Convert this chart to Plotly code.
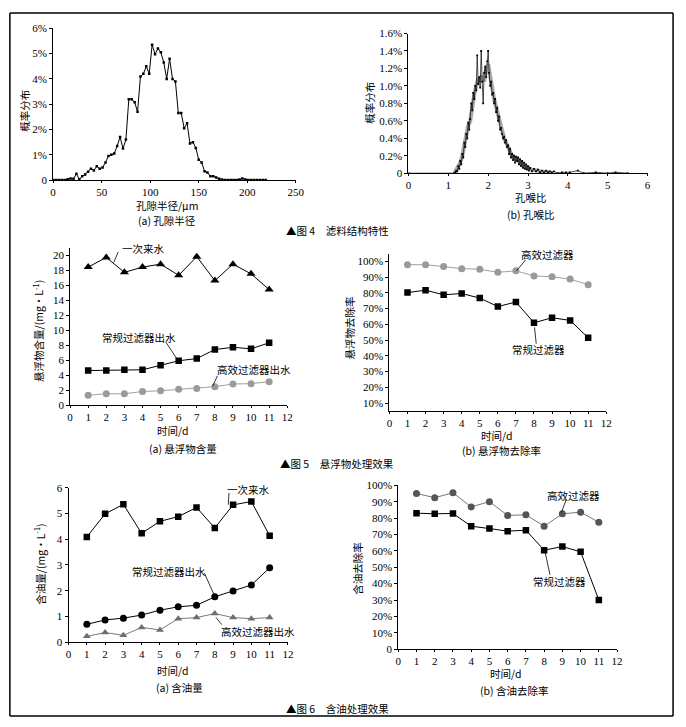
import plotly.graph_objects as go

W, H = 686, 727

def px(x):
    return x / W

def py(y):
    return 1 - y / H

# ---------------- data ----------------
# Fig 4a pore radius distribution
radius_um = [0, 3, 6, 9, 12, 15, 18, 21, 24, 27, 30, 33, 36, 39, 42, 45, 48, 51, 54, 57,
             60, 63, 66, 69, 72, 75, 78, 81, 84, 87, 90, 93, 96, 99, 102, 105, 108, 111,
             114, 117, 120, 123, 126, 129, 132, 135, 138, 141, 144, 147, 150, 153, 156,
             159, 162, 165, 168, 171, 174, 177, 180, 183, 186, 189, 192, 195, 198, 201,
             204, 207, 210, 213, 216, 219]
radius_pct = [0, 0, 0, 0, 0, 0.03, 0.06, 0.05, 0.25, 0.03, 0.15, 0.22, 0.33, 0.45, 0.38,
              0.55, 0.45, 0.5, 0.7, 0.95, 1.0, 1.05, 1.35, 1.7, 1.25, 1.6, 3.2, 3.2, 3.08,
              2.7, 4.1, 4.2, 4.5, 4.2, 5.35, 4.98, 5.2, 5.05, 4.65, 4.0, 4.8, 4.0, 3.9,
              2.65, 2.65, 2.05, 2.25, 1.45, 1.5, 1.27, 0.8, 0.7, 0.35, 0.3, 0.15, 0.15,
              0.1, 0.05, 0.02, 0, 0, 0, 0, 0, 0.02, 0.06, 0.02, 0, 0, 0, 0, 0, 0, 0]

# Fig 4b pore-throat ratio distribution (black series)
ratio_x = [0, 1.150, 1.175, 1.200, 1.225, 1.250, 1.275, 1.300, 1.325, 1.350, 1.375, 1.400,
           1.425, 1.450, 1.475, 1.500, 1.525, 1.550, 1.575, 1.600, 1.625, 1.650, 1.675,
           1.700, 1.725, 1.750, 1.775, 1.800, 1.825, 1.850, 1.875, 1.900, 1.925, 1.950,
           1.975, 2.000, 2.025, 2.050, 2.075, 2.100, 2.125, 2.150, 2.175, 2.200, 2.225,
           2.250, 2.275, 2.300, 2.325, 2.350, 2.375, 2.400, 2.425, 2.450, 2.475, 2.500,
           2.525, 2.550, 2.575, 2.600, 2.625, 2.650, 2.675, 2.700, 2.725, 2.750, 2.775,
           2.800, 2.825, 2.850, 2.875, 2.900, 2.925, 2.950, 2.975, 3.000, 3.025, 3.050,
           3.10, 3.15, 3.20, 3.25, 3.30, 3.35, 3.40, 3.45, 3.50, 3.55, 3.60, 3.65,
           3.75, 3.85, 3.95, 4.05, 4.25, 4.40, 4.70, 5.00, 5.20, 5.50]
ratio_pct = [0, 0.00, 0.01, 0.03, 0.02, 0.08, 0.05, 0.14, 0.10, 0.22, 0.18, 0.35,
             0.30, 0.45, 0.40, 0.58, 0.50, 0.62, 0.80, 0.72, 0.92, 0.85, 1.00,
             0.95, 1.35, 1.02, 1.10, 0.98, 1.40, 1.05, 0.80, 1.15, 1.22, 1.10,
             1.28, 1.40, 1.15, 1.00, 1.05, 0.90, 0.92, 0.80, 0.85, 0.70, 0.75,
             0.60, 0.65, 0.50, 0.52, 0.45, 0.40, 0.42, 0.35, 0.38, 0.30, 0.32,
             0.22, 0.28, 0.18, 0.22, 0.15, 0.20, 0.12, 0.19, 0.14, 0.18, 0.10,
             0.16, 0.08, 0.14, 0.06, 0.12, 0.05, 0.10, 0.04, 0.08, 0.03, 0.06,
             0.02, 0.05, 0.02, 0.04, 0.01, 0.03, 0.01, 0.03, 0.01, 0.02, 0.01, 0.02,
             0.00, 0.01, 0.01, 0.01, 0.03, 0.00, 0.01, 0.00, 0.01, 0.00]
# Fig 4b grey band series
ratio_x_grey = [1.15, 1.20, 1.25, 1.30, 1.35, 1.40, 1.45, 1.50, 1.55, 1.60, 1.65, 1.70,
                1.75, 1.80, 1.85, 1.90, 1.95, 2.00, 2.05, 2.10, 2.15, 2.20, 2.25, 2.30,
                2.35, 2.40, 2.45, 2.50, 2.55, 2.60, 2.65, 2.70, 2.75, 2.80, 2.85, 2.90,
                2.95, 3.00, 3.05, 3.10, 3.15, 3.20, 3.25, 3.30, 3.35, 3.40, 3.45, 3.50, 3.55]
ratio_pct_grey = [0.0, 0.04, 0.06, 0.12, 0.2, 0.32, 0.42, 0.55, 0.6, 0.78, 0.9, 1.0,
                  1.08, 1.05, 1.12, 1.05, 1.2, 1.25, 1.08, 0.98, 0.85, 0.76, 0.65, 0.55,
                  0.45, 0.4, 0.35, 0.3, 0.25, 0.2, 0.18, 0.16, 0.15, 0.13, 0.11, 0.09,
                  0.08, 0.06, 0.05, 0.04, 0.04, 0.03, 0.03, 0.02, 0.02, 0.02, 0.01, 0.01, 0.01]

days = [1, 2, 3, 4, 5, 6, 7, 8, 9, 10, 11]

# Fig 5a suspended solids content (mg/L)
ss_raw = [18.4, 19.7, 17.7, 18.4, 18.8, 17.3, 19.8, 16.6, 18.8, 17.5, 15.4]
ss_conv = [4.6, 4.6, 4.7, 4.7, 5.3, 5.9, 6.2, 7.4, 7.7, 7.5, 8.3]
ss_high = [1.3, 1.5, 1.5, 1.8, 1.9, 2.1, 2.2, 2.45, 2.8, 2.85, 3.1]

# Fig 5b suspended solids removal rate (%)
ss_rem_high = [97.9, 97.9, 96.7, 95.4, 95.0, 93.1, 94.0, 90.8, 90.2, 88.8, 85.2]
ss_rem_conv = [80.2, 81.7, 78.8, 79.6, 76.7, 71.3, 74.2, 61.0, 64.2, 62.5, 51.5]

# Fig 6a oil content (mg/L)
oil_raw = [4.09, 4.99, 5.36, 4.23, 4.70, 4.88, 5.24, 4.44, 5.34, 5.47, 4.14]
oil_conv = [0.69, 0.86, 0.93, 1.05, 1.24, 1.37, 1.43, 1.76, 1.99, 2.22, 2.89]
oil_high = [0.22, 0.37, 0.26, 0.57, 0.47, 0.91, 0.95, 1.11, 0.95, 0.91, 0.95]

# Fig 6b oil removal rate (%)
oil_rem_high = [95.0, 92.4, 95.4, 86.8, 90.0, 81.6, 82.0, 75.0, 82.6, 83.6, 77.4]
oil_rem_conv = [83.0, 82.6, 82.8, 75.0, 73.6, 72.0, 72.6, 60.4, 62.6, 59.4, 30.0]

# ---------------- figure ----------------
SERIF = "Liberation Serif"
CJK = "Noto Sans CJK SC"

fig = go.Figure()

def add(x, y, ax, color, symbol=None, size=6, lw=1, mode="lines+markers", lcolor=None):
    fig.add_trace(go.Scatter(
        x=x, y=y, xaxis="x" + ax, yaxis="y" + ax, mode=mode,
        line=dict(color=lcolor or color, width=lw),
        marker=dict(symbol=symbol or "circle", size=size, color=color, line=dict(width=0)),
        showlegend=False, hoverinfo="skip"))

# 4a
add(radius_um, radius_pct, "1", "black", "square", 2.5, 1)
# 4b
add(ratio_x_grey, ratio_pct_grey, "2", "#aaaaaa", mode="lines", lw=4)
add(ratio_x, ratio_pct, "2", "black", "square", 1.8, 0.7)
# 5a
add(days, ss_raw, "3", "black", "triangle-up", 8)
add(days, ss_conv, "3", "black", "square", 6.5)
add(days, ss_high, "3", "#9a9a9a", "circle", 7, lcolor="#a0a0a0")
# 5b
add(days, ss_rem_high, "4", "#9a9a9a", "circle", 7, lcolor="#a0a0a0")
add(days, ss_rem_conv, "4", "black", "square", 6.5)
# 6a
add(days, oil_raw, "5", "black", "square", 6.5)
add(days, oil_conv, "5", "black", "circle", 7)
add(days, oil_high, "5", "#6e6e6e", "triangle-up", 7, lcolor="#7a7a7a")
# 6b
add(days, oil_rem_high, "6", "#555555", "circle", 7, lcolor="#777777")
add(days, oil_rem_conv, "6", "black", "square", 6.5)

panels = {
    "1": dict(x=(51, 298), y=(22.7, 177), xr=[0, 250], yr=[0, 6],
              xt=[0, 50, 100, 150, 200, 250], yt=[0, 1, 2, 3, 4, 5, 6],
              ytt=["0", "1%", "2%", "3%", "4%", "5%", "6%"]),
    "2": dict(x=(412.7, 656), y=(28, 170), xr=[0, 6], yr=[0, 1.6],
              xt=[0, 1, 2, 3, 4, 5, 6], yt=[0, 0.2, 0.4, 0.6, 0.8, 1.0, 1.2, 1.4, 1.6],
              ytt=["0", "0.2%", "0.4%", "0.6%", "0.8%", "1.0%", "1.2%", "1.4%", "1.6%"]),
    "3": dict(x=(68.3, 289.3), y=(245.7, 405.7), xr=[0, 12], yr=[0, 21],
              xt=list(range(13)), yt=list(range(0, 21, 2)),
              ytt=[str(v) for v in range(0, 21, 2)]),
    "4": dict(x=(393.3, 614), y=(251.7, 411.7), xr=[0, 12], yr=[5, 105],
              xt=list(range(13)), yt=list(range(10, 101, 10)),
              ytt=[f"{v}%" for v in range(10, 101, 10)]),
    "5": dict(x=(66.7, 290), y=(490, 646.7), xr=[0, 12], yr=[0, 6],
              xt=list(range(13)), yt=list(range(7)), ytt=[str(v) for v in range(7)]),
    "6": dict(x=(402.3, 625), y=(487.3, 654), xr=[0, 12], yr=[0, 100],
              xt=list(range(13)), yt=list(range(0, 101, 10)),
              ytt=["0"] + [f"{v}%" for v in range(10, 101, 10)]),
}

layout = dict(width=W, height=H, margin=dict(l=0, r=0, t=0, b=0),
              paper_bgcolor="white", plot_bgcolor="white", showlegend=False)
for k, p in panels.items():
    xn = "xaxis" if k == "1" else "xaxis" + k
    yn = "yaxis" if k == "1" else "yaxis" + k
    layout[xn] = dict(domain=[px(p["x"][0]), px(p["x"][1])], range=p["xr"], anchor="y" + k,
                      tickvals=p["xt"], ticktext=[str(v) for v in p["xt"]],
                      showline=True, linecolor="black", linewidth=1, ticks="outside",
                      ticklen=2, tickcolor="black", showgrid=False, zeroline=False,
                      tickfont=dict(family=SERIF, size=11, color="black"), fixedrange=True)
    layout[yn] = dict(domain=[py(p["y"][1]), py(p["y"][0])], range=p["yr"], anchor="x" + k,
                      tickvals=p["yt"], ticktext=p["ytt"],
                      showline=True, linecolor="black", linewidth=1, ticks="outside",
                      ticklen=3, tickcolor="black", showgrid=False, zeroline=False,
                      tickfont=dict(family=SERIF, size=11, color="black"), fixedrange=True)
fig.update_layout(**layout)

def txt(s, x, y, size=10.5, angle=0, family=CJK):
    fig.add_annotation(text=s, x=px(x), y=py(y), xref="paper", yref="paper",
                       showarrow=False, textangle=angle, xanchor="center", yanchor="middle",
                       font=dict(family=family, size=size, color="black"))

def seg(x0, y0, x1, y1, color="black", width=0.8):
    fig.add_shape(type="line", xref="paper", yref="paper", x0=px(x0), y0=py(y0),
                  x1=px(x1), y1=py(y1), line=dict(color=color, width=width))

# Fig 4 texts
txt("概率分布", 22, 107, 10.5, -90)
txt("孔隙半径/μm", 167, 202.5)
txt("(a) 孔隙半径", 167, 218)
txt("概率分布", 373, 98, 10.5, -90)
txt("孔喉比", 537, 195)
txt("(b) 孔喉比", 537, 212)
txt("▲图 4　滤料结构特性", 340, 228)

# Fig 5 texts
txt("悬浮物含量/(mg·L<sup>-1</sup>)", 35, 330, 10.5, -90)
txt("时间/d", 173, 432)
txt("(a) 悬浮物含量", 183, 450)
txt("一次来水", 143, 247)
seg(117.3, 250, 112.7, 260.7)
txt("常规过滤器出水", 138, 337)
seg(165.7, 341.7, 176.7, 358.3)
txt("高效过滤器出水", 255, 370)
seg(218.3, 376, 213.3, 386.7)

txt("悬浮物去除率", 353, 327, 10.5, -90)
txt("时间/d", 503, 437)
txt("(b) 悬浮物去除率", 507, 452)
txt("高效过滤器", 554, 253)
seg(531.7, 258.3, 522.7, 269.3)
txt("常规过滤器", 545, 349)
seg(541, 326.7, 542.7, 343.3)
txt("▲图 5　悬浮物处理效果", 340, 465)

# Fig 6 texts
txt("含油量/(mg·L<sup>-1</sup>)", 36.7, 568, 10.5, -90)
txt("时间/d", 173, 676)
txt("(a) 含油量", 180, 693)
txt("一次来水", 250, 492)
seg(230, 495, 229.3, 507)
txt("常规过滤器出水", 169, 575)
seg(205, 576.7, 215, 599)
txt("高效过滤器出水", 260, 636)
seg(222.7, 629, 216.7, 621.7)

txt("含油去除率", 360.7, 571.7, 10.5, -90)
txt("时间/d", 511.7, 679)
txt("(b) 含油去除率", 520, 696)
txt("高效过滤器", 581, 498)
seg(573.3, 501.7, 568.3, 515)
txt("常规过滤器", 566, 585)
seg(551.7, 555, 556.7, 578.3)
txt("▲图 6　含油处理效果", 340, 714)

# outer frame (four edges)
seg(7, 7, 682, 7, width=1.5)
seg(7, 722, 682, 722, width=1.5)
seg(7, 7, 7, 722, width=1.5)
seg(682, 7, 682, 722, width=1.5)

fig.write_html("out.html", config={"displayModeBar": False},
               post_script="document.body.style.margin='0px';document.body.style.overflow='hidden';")
